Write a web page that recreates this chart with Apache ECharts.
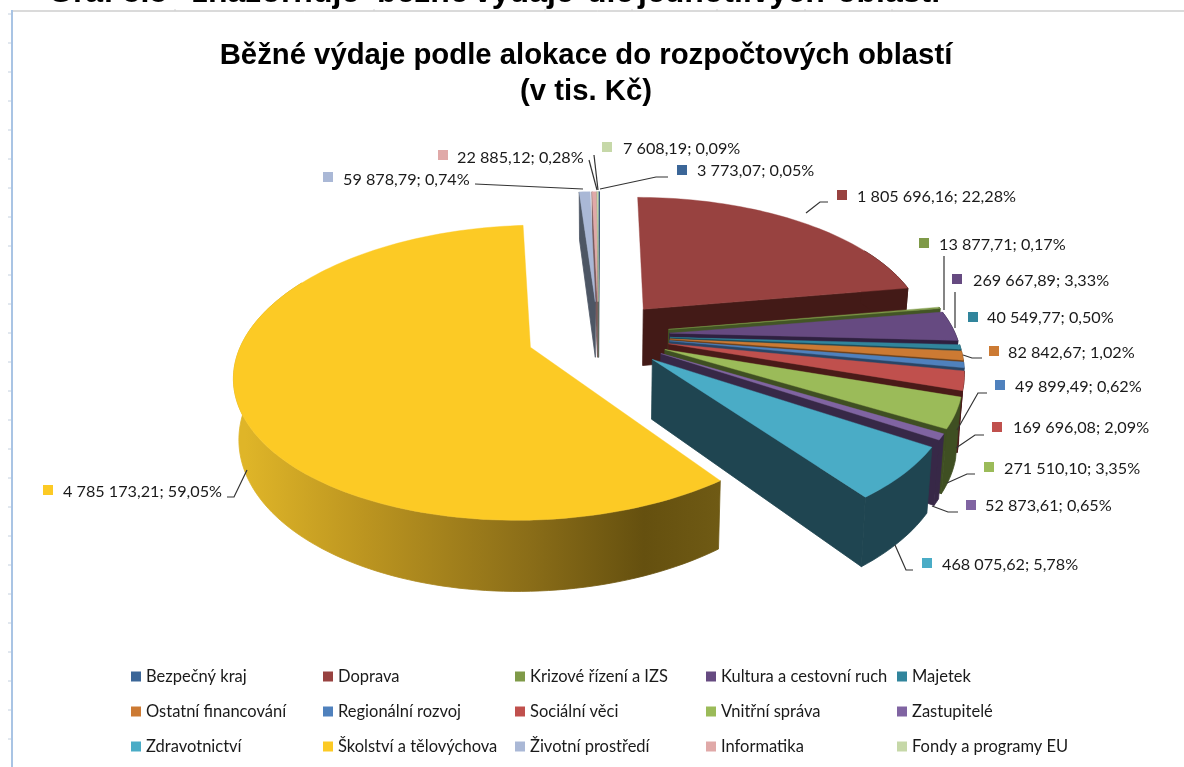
<!DOCTYPE html>
<html>
<head>
<meta charset="utf-8">
<script src="https://cdn.jsdelivr.net/npm/echarts@6/dist/echarts.min.js"></script>
<style>html,body{margin:0;padding:0;background:#fff}#c{width:1184px;height:767px}</style>
</head>
<body>
<div id="c"></div>
<script>
// ---- data ----
const categories = ['Bezpečný kraj','Doprava','Krizové řízení a IZS','Kultura a cestovní ruch','Majetek',
  'Ostatní financování','Regionální rozvoj','Sociální věci','Vnitřní správa','Zastupitelé',
  'Zdravotnictví','Školství a tělovýchova','Životní prostředí','Informatika','Fondy a programy EU'];
const values = [3773.07,1805696.16,13877.71,269667.89,40549.77,82842.67,49899.49,169696.08,271510.10,52873.61,468075.62,4785173.21,59878.79,22885.12,7608.19];
const percents = [0.05,22.28,0.17,3.33,0.50,1.02,0.62,2.09,3.35,0.65,5.78,59.05,0.74,0.28,0.09];
const colors = ['#3b6698','#984240','#7f9a48','#664a81','#31859c','#cc7a33','#4f81bd','#c0504d','#9bbb59','#8064a2','#4aacc6','#fcca25','#aab8d6','#e0a9a8','#c6d8a8'];
const wallColors = ['#1f3550','#431a17','#435525','#2f2040','#1a4653','#6b3f19','#284566','#4a1a18','#3f4f22','#372847','#1f4551','#6b5512','#4d5664','#77595a','#69735a'];
// ---- layout (style only): swatch x, y, text x, text y, leader polyline ----
const labelLayout = [
  [682,170,697,171,[[668,177],[656,177],[600,189]]],
  [842,195,857,197,[[828,202],[820,202],[806,213]]],
  [924,243,939,245,[[944,256],[944,310]]],
  [957,279,973,281,[[955,292],[955,328]]],
  [973,317,987,318,[]],
  [994,351,1008,353,[[982,358],[972,358],[963,355]]],
  [1000,385,1015,387,[[987,393],[978,393],[957,430]]],
  [997,427,1013,428,[[984,435],[975,435],[956,448]]],
  [989,467,1004,469,[[975,474],[967,474],[947,483]]],
  [971,505,985,506,[[958,512],[948,512],[932,506]]],
  [927,563,942,565,[[913,570],[906,570],[895,545]]],
  [48,490,63,492,[[227,497],[234,497],[247,470]]],
  [328,177,343,180,[[475,184],[583,189]]],
  [443,155,457,158,[[589,160],[597,190]]],
  [607,147,623,149,[[594,155],[598,190]]]
];
const legendCols = [131,323,515,706,897];
const legendRowTops = [668,703,738];
const headWords = [['Graf 5.5',48],['znázorňuje',192],['běžné',377],['výdaje',474],['dle',587],['jednotlivých',638],['oblastí',837]];

// ---- 3D pie projection parameters ----
const cx=598.5, cy=335, bx=286, ay=139, persp=0.17, explode=0.25, depth=58, startDeg=0;
const total = values.reduce((a,b)=>a+b,0);
const rad = d=>d*Math.PI/180;
function proj(U,V,low){
  const w = 1-persp*V;
  const x = bx*U/w, y = ay*V/w;
  return low ? [cx+x*0.985, cy+y+depth/w] : [cx+x, cy+y];
}
const starts = []; { let a=startDeg; values.forEach(v=>{starts.push(a); a+=v/total*360;}); }
function sliceGeom(i){
  const a0=starts[i], a1=a0+values[i]/total*360, mid=(a0+a1)/2;
  const ex=Math.sin(rad(mid))*explode, ey=-Math.cos(rad(mid))*explode;
  const n=Math.max(3,Math.ceil((a1-a0)/1.5));
  const arc=[], frontArc=[];
  for(let k=0;k<=n;k++){
    const d=a0+(a1-a0)*k/n, t=rad(d), p=[ex+Math.sin(t),ey-Math.cos(t)];
    arc.push(p);
    if(d>=60 && d<=300) frontArc.push(p);   // only this part of the rim faces the camera
  }
  return {tip:[ex,ey],arc,frontArc,mid,a0,a1};
}
const order = values.map((_,i)=>i).sort((p,q)=>(-Math.cos(rad(sliceGeom(p).mid)))-(-Math.cos(rad(sliceGeom(q).mid))));
const rank = []; order.forEach((idx,r)=>rank[idx]=r);

function renderSlice(params,api){
  const i = api.value(0);
  const g = sliceGeom(i);
  const top = g.arc.map(p=>proj(p[0],p[1],false));
  const bot = g.arc.map(p=>proj(p[0],p[1],true));
  const tt = proj(g.tip[0],g.tip[1],false), tb = proj(g.tip[0],g.tip[1],true);
  let wallFill = wallColors[i];
  if(categories[i]==='Školství a tělovýchova'){
    wallFill = new echarts.graphic.LinearGradient(245,0,720,0,[
      {offset:0,color:'#dfb528'},{offset:0.25,color:'#bc9520'},{offset:0.6,color:'#8a6d18'},{offset:0.84,color:'#65500f'},{offset:1,color:'#6f5a14'}],true);
  }
  const poly=(pts,fill,lw)=>({type:'polygon',shape:{points:pts},style:{fill:fill,stroke:lw?fill:null,lineWidth:lw||0},silent:true});
  const kids=[];
  // cut faces: a camera in front sees only those turned toward the middle
  if(g.a0>180) kids.push(poly([tt,top[0],bot[0],tb],wallColors[i],0.8));
  if(g.a1<180) kids.push(poly([tt,top[top.length-1],bot[bot.length-1],tb],wallColors[i],0.8));
  if(g.frontArc.length>1){
    const ft=g.frontArc.map(p=>proj(p[0],p[1],false)), fb=g.frontArc.map(p=>proj(p[0],p[1],true));
    kids.push(poly(ft.concat(fb.reverse()),wallFill,0.8));
  }
  kids.push(poly([tt].concat(top),colors[i],0.4));
  return {type:'group',children:kids};
}
function fmtValue(v){
  const s=v.toFixed(2).split('.');
  return s[0].replace(/\B(?=(\d{3})+(?!\d))/g,' ')+','+s[1];
}
function fmtPct(p){return p.toFixed(2).replace('.',',')+'%';}
function renderLabel(params,api){
  const i=api.value(0), L=labelLayout[i];
  const kids=[
    {type:'rect',shape:{x:L[0]-5,y:L[1]-5,width:10,height:10},style:{fill:colors[i]},silent:true},
    {type:'text',x:L[2],y:L[3],style:{text:fmtValue(values[i])+'; '+fmtPct(percents[i]),font:'16.2px Lato',fill:'#1a1a1a',verticalAlign:'middle'},silent:true}
  ];
  if(L[4].length) kids.push({type:'polyline',shape:{points:L[4]},style:{stroke:'#333',lineWidth:1.2,fill:null},silent:true});
  return {type:'group',children:kids};
}

const series = categories.map((name,i)=>({
  type:'custom',name:name,coordinateSystem:'none',z:10+rank[i],silent:true,animation:false,
  itemStyle:{color:colors[i]},renderItem:renderSlice,data:[[i]]
}));
series.push({type:'custom',name:'labels',coordinateSystem:'none',z:60,silent:true,animation:false,
  renderItem:renderLabel,data:categories.map((_,i)=>[i])});

// page furniture of the screenshot
const furniture=headWords.map(w=>({type:'text',x:w[1],y:-7,style:{text:w[0],font:'bold 32px "Liberation Sans"',fill:'#000',verticalAlign:'middle'}}));
furniture.push(
  {type:'line',shape:{x1:11,y1:11,x2:1184,y2:11},style:{stroke:'#b5b5b5',lineWidth:1}},
  {type:'line',shape:{x1:12,y1:10,x2:12,y2:767},style:{stroke:'#a9c4e4',lineWidth:2}}
);
for(let y=14;y<767;y+=29) furniture.push({type:'line',shape:{x1:8,y1:y,x2:11,y2:y},style:{stroke:'#c4d0de',lineWidth:1}});
[175,374,545,632,717,805,892].forEach(x=>furniture.push({type:'line',shape:{x1:x,y1:9,x2:x,y2:11},style:{stroke:'#d0d0d0',lineWidth:1}}));

const chart=echarts.init(document.getElementById('c'),null,{renderer:'canvas'});
chart.setOption({
  animation:false,
  backgroundColor:'#fff',
  title:{text:'Běžné výdaje podle alokace do rozpočtových oblastí\n(v tis. Kč)',left:586,top:38,
    padding:0,textAlign:'center',textStyle:{fontFamily:'Liberation Sans',fontWeight:'bold',fontSize:29.3,lineHeight:36,color:'#000'}},
  legend:categories.map((name,i)=>({
    data:[name],left:legendCols[i%5],top:legendRowTops[Math.floor(i/5)],orient:'horizontal',icon:'rect',itemWidth:10,itemHeight:10,itemGap:0,
    padding:0,selectedMode:false,
    textStyle:{fontFamily:'Lato',fontSize:16.5,color:'#1a1a1a'},itemStyle:{borderWidth:0}
  })),
  graphic:{elements:furniture},
  series:series
});
</script>
</body>
</html>
